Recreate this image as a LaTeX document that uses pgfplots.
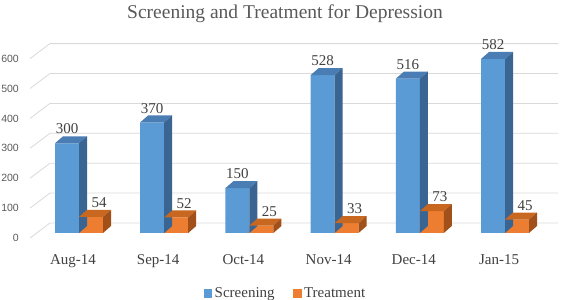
\documentclass[border=0pt]{standalone}
\usepackage{fontspec}
\setmainfont{Liberation Serif}
\newfontfamily\ticksans{Liberation Sans}
\usepackage{pgfplots}
\pgfplotsset{compat=1.18}
\definecolor{blueF}{HTML}{5B9BD5}
\definecolor{blueT}{HTML}{4A7DB3}
\definecolor{blueS}{HTML}{3A6593}
\definecolor{orF}{HTML}{ED7D31}
\definecolor{orT}{HTML}{C8671F}
\definecolor{orS}{HTML}{A2501A}
\definecolor{gridc}{HTML}{D9D9D9}
\definecolor{txt}{HTML}{404040}
\definecolor{ticktxt}{HTML}{595959}
\pgfdeclareplotmark{nomark}{}
% depth faces of each bar, drawn from the data point; h = value * y unit
% #1 top colour, #2 side colour, #3 bar shift, #4 label shift
\pgfplotsset{
  prism/.style n args={4}{
    mark=nomark, scatter,
    visualization depends on={rawy \as \ry},
    scatter/@pre marker code/.code={%
      \pgfmathtruncatemacro\lab{round(\ry)}%
      \pgfmathsetlengthmacro\hh{\ry*0.299pt}%
      \fill[#1] ({#3-12pt},0pt) -- ({#3+12pt},0pt) -- ({#3+20pt},7pt) -- ({#3-4pt},7pt) -- cycle;
      \fill[#2] ({#3+12pt},0pt) -- ({#3+20pt},7pt) -- ({#3+20pt},{7pt-\hh}) -- ({#3+12pt},{-\hh}) -- cycle;
      \node[anchor=south, inner sep=0pt, font=\fontsize{15}{18}\selectfont, text=txt] at ({#3+#4},9pt) {\lab};
    },
    scatter/@post marker code/.code={},
  }
}

\begin{document}
\begin{tikzpicture}
\begin{axis}[
  at={(27.88pt,67pt)}, anchor=south west,
  x=85.2pt, y=0.299pt,
  xmin=-0.6, xmax=5.6, ymin=0, ymax=620,
  clip=false,
  axis line style={draw=none}, tick style={draw=none}, major tick length=0pt,
  /pgf/number format/assume math mode=true,
  ybar=0pt, bar width=24pt,
  xtick={0,...,5},
  xticklabels={Aug-14,Sep-14,Oct-14,Nov-14,Dec-14,Jan-15},
  xticklabel style={anchor=base, inner sep=0pt, xshift=-6pt, yshift=-31.6pt, font=\fontsize{15}{18}\selectfont, text=txt},
  ytick={0,100,...,600},
  yticklabel style={anchor=east, inner sep=0pt, xshift=-8.9pt, yshift=-5pt, font=\ticksans\fontsize{10.5}{12}\selectfont, text=ticktxt},
  legend style={at={(0.3327,-0.3269)}, anchor=west, draw=none, fill=none, inner sep=0pt,
    font=\fontsize{15}{18}\selectfont, text=txt, legend columns=-1,
    /tikz/every even column/.append style={column sep=18.5pt},
    /tikz/every odd column/.append style={column sep=2.5pt},
    nodes={inner sep=0pt}},
  legend cell align=left,
]
\foreach \v in {0,100,...,600}{
  \edef\temp{\noexpand\draw[gridc, line width=0.8pt] ([yshift=-5pt]axis cs:-0.5751,\v) -- ([yshift=10pt]axis cs:-0.3404,\v) -- ([yshift=10pt]axis cs:5.622,\v);}
  \temp
}
\addplot[fill=blueF, draw=none, prism={blueT}{blueS}{-12pt}{0pt},
  legend image code/.code={\fill[blueF] (0pt,-4.2pt) rectangle (8.4pt,4.2pt);}]
  coordinates {(0,300) (1,370) (2,150) (3,528) (4,516) (5,582)};
\addlegendentry{Screening}
\addplot[fill=orF, draw=none, prism={orT}{orS}{12pt}{8pt},
  legend image code/.code={\fill[orF] (0pt,-4.2pt) rectangle (8.4pt,4.2pt);}]
  coordinates {(0,54) (1,52) (2,25) (3,33) (4,73) (5,45)};
\addlegendentry{Treatment}
\end{axis}
\node[anchor=base, inner sep=0pt, font=\fontsize{19.5}{23}\selectfont, text=ticktxt] at (285pt,281.7pt) {Screening and Treatment for Depression};
\pgfresetboundingbox
\useasboundingbox (0,0) rectangle (568pt,300pt);
\end{tikzpicture}
\end{document}
